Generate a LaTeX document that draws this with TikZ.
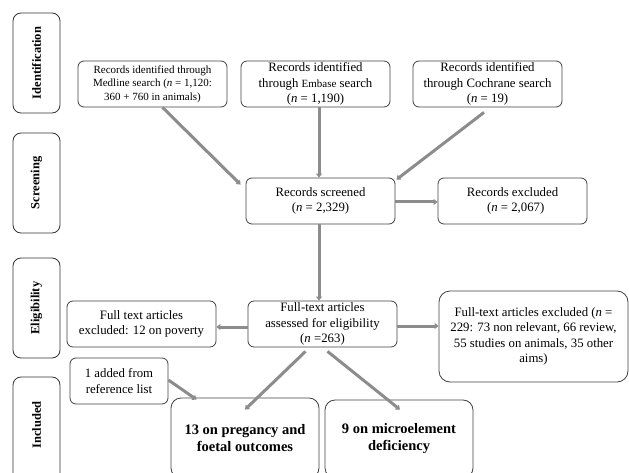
\documentclass[tikz,border=0pt]{standalone}
\usepackage{fontspec}
\setmainfont{Liberation Serif}
\usetikzlibrary{arrows.meta,calc}
\begin{document}
\begin{tikzpicture}[x=1pt,y=-1pt,
  box/.style={draw=black!75,line width=0.8pt,rounded corners=6pt,align=center,inner sep=0pt,
    font=\fontsize{12.8}{15.5}\selectfont},
  side/.style={draw=black!80,line width=0.8pt,rounded corners=8pt,minimum width=47pt,inner sep=0pt},
  sidetext/.style={rotate=90,font=\fontsize{12.5}{14}\selectfont\bfseries},
  big/.style={box,rounded corners=10pt,font=\fontsize{14.5}{17}\selectfont\bfseries},
  arr/.style={draw=black!45,line width=3pt,-{Triangle[length=4pt,width=6pt]}}]
\useasboundingbox (0,0) rectangle (629,473);
\clip (0,0) rectangle (629,473);
% phase labels
\node[side,minimum height=100pt] (idl) at (36.5,63) {};
\node[sidetext] (idlt) at (idl.center) {Identification};
\node[side,minimum height=100pt] (scl) at (36.5,183) {};
\node[sidetext] (sclt) at (scl.center) {Screening};
\node[side,minimum height=100pt] (ell) at (36.5,308) {};
\node[sidetext] (ellt) at (ell.center) {Eligibility};
\node[side,minimum height=110pt] (inl) at (36.5,432) {};
\node[sidetext] (inlt) at (36.5,425) {Included};
% boxes
\node[box,minimum width=149pt,minimum height=46pt,font=\fontsize{11}{13.5}\selectfont] (med) at (152.5,84)
  {Records identified through\\ Medline search (\textit{n} = 1,120:\\ 360 + 760 in animals)};
\node[box,minimum width=149pt,minimum height=46pt] (emb) at (315.5,84)
  {Records identified\\ through {\fontsize{11}{13}\selectfont Embase} search\\ (\textit{n} = 1,190)};
\node[box,minimum width=149pt,minimum height=46pt] (coc) at (487.5,84)
  {Records identified\\ through Cochrane search\\ (\textit{n} = 19)};
\node[box,minimum width=149pt,minimum height=46pt] (scr) at (320.5,201)
  {Records screened\\ (\textit{n} = 2,329)};
\node[box,minimum width=149pt,minimum height=46pt] (exc) at (512.5,201)
  {Records excluded\\ \ \ (\textit{n} = 2,067)};
\node[box,minimum width=149pt,minimum height=46pt] (ft) at (322.5,324)
  {Full-text articles\\ assessed for eligibility\\ (\textit{n} =263)};
\node[box,minimum width=149pt,minimum height=46pt] (ftl) at (141.5,324)
  {Full text articles\\ excluded: 12 on poverty};
\node[box,rounded corners=11pt,minimum width=189pt,minimum height=91pt] (ftr) at (533.5,336.5)
  {Full-text articles excluded (\textit{n} =\\ 229: 73 non relevant, 66 review,\\ 55 studies on animals, 35 other\\ aims)};
\node[box,minimum width=98pt,minimum height=46pt] (add) at (119,381)
  {1 added from\\ reference list};
\node[big,minimum width=148pt,minimum height=80pt] (p13) at (245,438)
  {13 on pregancy and\\ foetal outcomes};
\node[big,minimum width=148pt,minimum height=78pt] (m9) at (399,439)
  {9 on microelement\\ deficiency};
% connector end points
\coordinate (fte) at ($(ft.east)+(0,2)$);
% connectors
\draw[arr] ($(med.south)+(10,0)$) -- ($(scr.north west)+(-5,7)$);
\draw[arr] ($(emb.south)+(3.5,0)$) -- ($(scr.north)+(-1.5,0)$);
\draw[arr] ($(coc.south)+(-3.5,5)$) -- ($(scr.north east)+(1,2)$);
\draw[arr] ($(scr.east)+(0,1)$) -- ($(exc.west)+(0,1)$);
\draw[arr] ($(scr.south)+(-1.5,0)$) -- ($(ft.north)+(-3.5,0)$);
\draw[arr] ($(ft.west)+(0,3)$) -- ($(ftl.east)+(0,3)$);
\draw[arr] (fte) -- (fte -| ftr.west);
\draw[arr] ($(ft.south)+(-17,4)$) -- ($(p13.north)+(0,12)$);
\draw[arr] ($(ft.south)+(5,4)$) -- ($(m9.north)+(1,10)$);
\draw[arr] ($(add.east)+(0,-1)$) -- ($(p13.north west)+(26,2)$);
\end{tikzpicture}
\end{document}
